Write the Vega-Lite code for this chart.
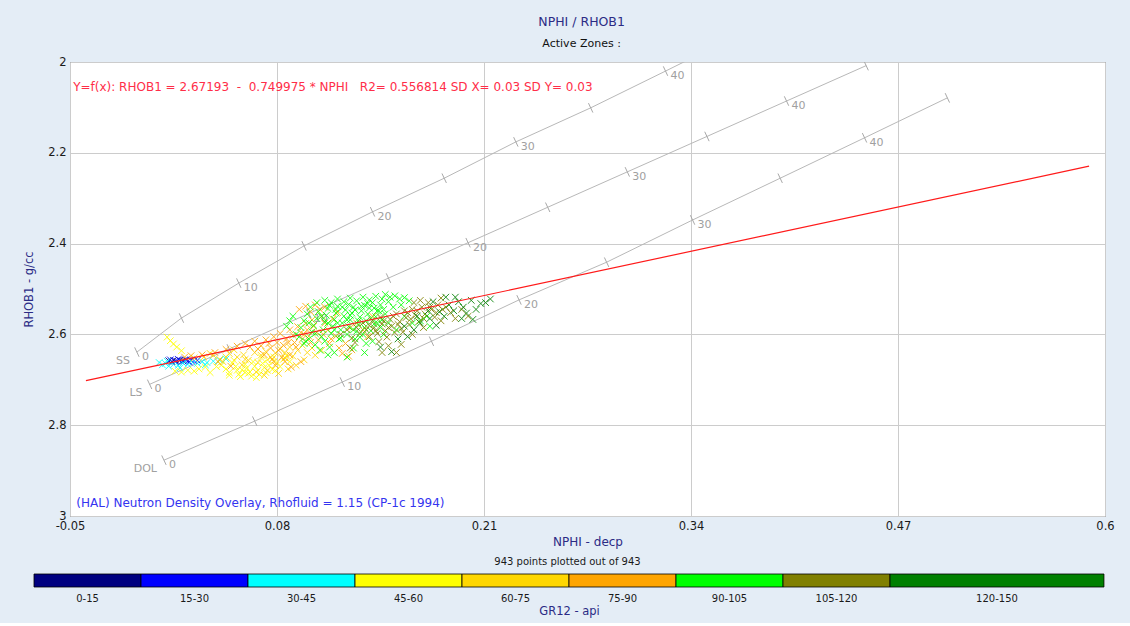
{
  "$schema": "https://vega.github.io/schema/vega-lite/v6.json",
  "background": "#E4EDF6",
  "padding": {"left": 23, "top": 16, "right": 14, "bottom": 6},
  "config": {
    "font": "DejaVu Sans",
    "view": {"stroke": "#4A4A4A", "strokeWidth": 1, "fill": "#FFFFFF"},
    "axis": {"labelFont": "DejaVu Sans", "titleFont": "DejaVu Sans", "titleFontWeight": "normal", "labelColor": "#1A1A1A", "titleColor": "#2B2B85", "gridColor": "#CCCCCC", "gridOpacity": 1, "domain": false, "ticks": false, "labelFlush": false, "labelOverlap": false},
    "title": {"font": "DejaVu Sans", "fontWeight": "normal"}
  },
  "title": {"text": "NPHI / RHOB1", "subtitle": "Active Zones :", "anchor": "middle", "color": "#2B2B85", "fontSize": 12.5, "subtitleColor": "#111111", "subtitleFontSize": 11, "subtitleFont": "DejaVu Sans", "subtitlePadding": 9, "offset": 7},
  "spacing": 8,
  "datasets": {
    "overlay": [
      {"lith": "SS", "phi": 0, "NPHI": -0.008, "RHOB1": 2.639},
      {"lith": "SS", "phi": 5, "NPHI": 0.020, "RHOB1": 2.564},
      {"lith": "SS", "phi": 10, "NPHI": 0.056, "RHOB1": 2.487},
      {"lith": "SS", "phi": 15, "NPHI": 0.097, "RHOB1": 2.405},
      {"lith": "SS", "phi": 20, "NPHI": 0.140, "RHOB1": 2.330},
      {"lith": "SS", "phi": 25, "NPHI": 0.185, "RHOB1": 2.256},
      {"lith": "SS", "phi": 30, "NPHI": 0.230, "RHOB1": 2.176},
      {"lith": "SS", "phi": 35, "NPHI": 0.277, "RHOB1": 2.101},
      {"lith": "SS", "phi": 40, "NPHI": 0.324, "RHOB1": 2.020},
      {"lith": "SS", "phi": 45, "NPHI": 0.370, "RHOB1": 1.940},
      {"lith": "LS", "phi": 0, "NPHI": 0.000, "RHOB1": 2.710},
      {"lith": "LS", "phi": 5, "NPHI": 0.050, "RHOB1": 2.632},
      {"lith": "LS", "phi": 10, "NPHI": 0.100, "RHOB1": 2.554},
      {"lith": "LS", "phi": 15, "NPHI": 0.150, "RHOB1": 2.476},
      {"lith": "LS", "phi": 20, "NPHI": 0.200, "RHOB1": 2.398},
      {"lith": "LS", "phi": 25, "NPHI": 0.250, "RHOB1": 2.320},
      {"lith": "LS", "phi": 30, "NPHI": 0.300, "RHOB1": 2.242},
      {"lith": "LS", "phi": 35, "NPHI": 0.350, "RHOB1": 2.164},
      {"lith": "LS", "phi": 40, "NPHI": 0.400, "RHOB1": 2.086},
      {"lith": "LS", "phi": 45, "NPHI": 0.450, "RHOB1": 2.008},
      {"lith": "DOL", "phi": 0, "NPHI": 0.009, "RHOB1": 2.877},
      {"lith": "DOL", "phi": 5, "NPHI": 0.066, "RHOB1": 2.791},
      {"lith": "DOL", "phi": 10, "NPHI": 0.121, "RHOB1": 2.705},
      {"lith": "DOL", "phi": 15, "NPHI": 0.177, "RHOB1": 2.615},
      {"lith": "DOL", "phi": 20, "NPHI": 0.232, "RHOB1": 2.524},
      {"lith": "DOL", "phi": 25, "NPHI": 0.287, "RHOB1": 2.441},
      {"lith": "DOL", "phi": 30, "NPHI": 0.341, "RHOB1": 2.348},
      {"lith": "DOL", "phi": 35, "NPHI": 0.396, "RHOB1": 2.256},
      {"lith": "DOL", "phi": 40, "NPHI": 0.449, "RHOB1": 2.167},
      {"lith": "DOL", "phi": 45, "NPHI": 0.501, "RHOB1": 2.079}
    ],
    "fit": [
      {"NPHI": -0.04, "RHOB1": 2.70193},
      {"NPHI": 0.59, "RHOB1": 2.22945}
    ],
    "legend": [
      {"range": "0-15", "lo": 0, "hi": 15, "mid": 7.5},
      {"range": "15-30", "lo": 15, "hi": 30, "mid": 22.5},
      {"range": "30-45", "lo": 30, "hi": 45, "mid": 37.5},
      {"range": "45-60", "lo": 45, "hi": 60, "mid": 52.5},
      {"range": "60-75", "lo": 60, "hi": 75, "mid": 67.5},
      {"range": "75-90", "lo": 75, "hi": 90, "mid": 82.5},
      {"range": "90-105", "lo": 90, "hi": 105, "mid": 97.5},
      {"range": "105-120", "lo": 105, "hi": 120, "mid": 112.5},
      {"range": "120-150", "lo": 120, "hi": 150, "mid": 135}
    ],
    "points": [
      {"NPHI": 0.012, "RHOB1": 2.658, "GR12": 9}, {"NPHI": 0.015, "RHOB1": 2.657, "GR12": 11}, {"NPHI": 0.017, "RHOB1": 2.659, "GR12": 8}, {"NPHI": 0.019, "RHOB1": 2.657, "GR12": 12}, {"NPHI": 0.021, "RHOB1": 2.658, "GR12": 10}, {"NPHI": 0.014, "RHOB1": 2.660, "GR12": 13}, {"NPHI": 0.023, "RHOB1": 2.656, "GR12": 14},
      {"NPHI": 0.013, "RHOB1": 2.656, "GR12": 18}, {"NPHI": 0.016, "RHOB1": 2.659, "GR12": 21}, {"NPHI": 0.018, "RHOB1": 2.655, "GR12": 24}, {"NPHI": 0.020, "RHOB1": 2.660, "GR12": 19}, {"NPHI": 0.022, "RHOB1": 2.657, "GR12": 26}, {"NPHI": 0.024, "RHOB1": 2.659, "GR12": 22}, {"NPHI": 0.026, "RHOB1": 2.656, "GR12": 28}, {"NPHI": 0.028, "RHOB1": 2.658, "GR12": 23}, {"NPHI": 0.025, "RHOB1": 2.661, "GR12": 27}, {"NPHI": 0.030, "RHOB1": 2.657, "GR12": 29},
      {"NPHI": 0.006, "RHOB1": 2.662, "GR12": 33}, {"NPHI": 0.008, "RHOB1": 2.667, "GR12": 36}, {"NPHI": 0.010, "RHOB1": 2.664, "GR12": 41}, {"NPHI": 0.012, "RHOB1": 2.670, "GR12": 38}, {"NPHI": 0.015, "RHOB1": 2.666, "GR12": 34}, {"NPHI": 0.018, "RHOB1": 2.668, "GR12": 43}, {"NPHI": 0.021, "RHOB1": 2.663, "GR12": 39}, {"NPHI": 0.024, "RHOB1": 2.666, "GR12": 37}, {"NPHI": 0.027, "RHOB1": 2.662, "GR12": 42}, {"NPHI": 0.030, "RHOB1": 2.664, "GR12": 35}, {"NPHI": 0.033, "RHOB1": 2.660, "GR12": 40}, {"NPHI": 0.036, "RHOB1": 2.662, "GR12": 44}, {"NPHI": 0.040, "RHOB1": 2.659, "GR12": 38}, {"NPHI": 0.044, "RHOB1": 2.657, "GR12": 36}, {"NPHI": 0.048, "RHOB1": 2.654, "GR12": 41}, {"NPHI": 0.019, "RHOB1": 2.674, "GR12": 39}, {"NPHI": 0.011, "RHOB1": 2.659, "GR12": 33}, {"NPHI": 0.035, "RHOB1": 2.667, "GR12": 42},
      {"NPHI": 0.011, "RHOB1": 2.606, "GR12": 52}, {"NPHI": 0.013, "RHOB1": 2.614, "GR12": 55}, {"NPHI": 0.015, "RHOB1": 2.621, "GR12": 49}, {"NPHI": 0.017, "RHOB1": 2.628, "GR12": 57}, {"NPHI": 0.020, "RHOB1": 2.636, "GR12": 53},
      {"NPHI": 0.016, "RHOB1": 2.681, "GR12": 51}, {"NPHI": 0.020, "RHOB1": 2.683, "GR12": 56}, {"NPHI": 0.024, "RHOB1": 2.679, "GR12": 48}, {"NPHI": 0.028, "RHOB1": 2.681, "GR12": 54}, {"NPHI": 0.031, "RHOB1": 2.676, "GR12": 58}, {"NPHI": 0.035, "RHOB1": 2.672, "GR12": 50}, {"NPHI": 0.038, "RHOB1": 2.684, "GR12": 55}, {"NPHI": 0.042, "RHOB1": 2.671, "GR12": 47},
      {"NPHI": 0.045, "RHOB1": 2.668, "GR12": 53}, {"NPHI": 0.048, "RHOB1": 2.676, "GR12": 56}, {"NPHI": 0.050, "RHOB1": 2.684, "GR12": 50}, {"NPHI": 0.052, "RHOB1": 2.663, "GR12": 58}, {"NPHI": 0.054, "RHOB1": 2.671, "GR12": 52}, {"NPHI": 0.056, "RHOB1": 2.688, "GR12": 55}, {"NPHI": 0.058, "RHOB1": 2.678, "GR12": 49}, {"NPHI": 0.060, "RHOB1": 2.666, "GR12": 57}, {"NPHI": 0.061, "RHOB1": 2.674, "GR12": 54}, {"NPHI": 0.063, "RHOB1": 2.683, "GR12": 51}, {"NPHI": 0.065, "RHOB1": 2.660, "GR12": 56}, {"NPHI": 0.066, "RHOB1": 2.670, "GR12": 53}, {"NPHI": 0.068, "RHOB1": 2.679, "GR12": 58}, {"NPHI": 0.069, "RHOB1": 2.688, "GR12": 50}, {"NPHI": 0.071, "RHOB1": 2.664, "GR12": 55}, {"NPHI": 0.072, "RHOB1": 2.673, "GR12": 52}, {"NPHI": 0.074, "RHOB1": 2.656, "GR12": 57}, {"NPHI": 0.075, "RHOB1": 2.668, "GR12": 54}, {"NPHI": 0.077, "RHOB1": 2.677, "GR12": 49}, {"NPHI": 0.078, "RHOB1": 2.650, "GR12": 56}, {"NPHI": 0.080, "RHOB1": 2.662, "GR12": 53}, {"NPHI": 0.082, "RHOB1": 2.671, "GR12": 58}, {"NPHI": 0.084, "RHOB1": 2.655, "GR12": 51}, {"NPHI": 0.086, "RHOB1": 2.646, "GR12": 55}, {"NPHI": 0.057, "RHOB1": 2.693, "GR12": 52}, {"NPHI": 0.064, "RHOB1": 2.692, "GR12": 57}, {"NPHI": 0.070, "RHOB1": 2.651, "GR12": 54}, {"NPHI": 0.053, "RHOB1": 2.657, "GR12": 50}, {"NPHI": 0.088, "RHOB1": 2.660, "GR12": 56}, {"NPHI": 0.062, "RHOB1": 2.686, "GR12": 53},
      {"NPHI": 0.050, "RHOB1": 2.690, "GR12": 51}, {"NPHI": 0.055, "RHOB1": 2.679, "GR12": 57}, {"NPHI": 0.060, "RHOB1": 2.684, "GR12": 48}, {"NPHI": 0.067, "RHOB1": 2.695, "GR12": 55}, {"NPHI": 0.073, "RHOB1": 2.684, "GR12": 52}, {"NPHI": 0.079, "RHOB1": 2.680, "GR12": 58},
      {"NPHI": 0.028, "RHOB1": 2.652, "GR12": 66}, {"NPHI": 0.034, "RHOB1": 2.650, "GR12": 70}, {"NPHI": 0.040, "RHOB1": 2.646, "GR12": 63}, {"NPHI": 0.046, "RHOB1": 2.660, "GR12": 72}, {"NPHI": 0.050, "RHOB1": 2.642, "GR12": 68}, {"NPHI": 0.055, "RHOB1": 2.650, "GR12": 65}, {"NPHI": 0.059, "RHOB1": 2.645, "GR12": 71}, {"NPHI": 0.062, "RHOB1": 2.657, "GR12": 67}, {"NPHI": 0.066, "RHOB1": 2.640, "GR12": 62}, {"NPHI": 0.070, "RHOB1": 2.646, "GR12": 73}, {"NPHI": 0.073, "RHOB1": 2.638, "GR12": 69}, {"NPHI": 0.076, "RHOB1": 2.650, "GR12": 64}, {"NPHI": 0.079, "RHOB1": 2.641, "GR12": 70}, {"NPHI": 0.082, "RHOB1": 2.632, "GR12": 66}, {"NPHI": 0.085, "RHOB1": 2.640, "GR12": 72}, {"NPHI": 0.088, "RHOB1": 2.628, "GR12": 68}, {"NPHI": 0.090, "RHOB1": 2.648, "GR12": 63}, {"NPHI": 0.093, "RHOB1": 2.635, "GR12": 71}, {"NPHI": 0.096, "RHOB1": 2.624, "GR12": 67}, {"NPHI": 0.099, "RHOB1": 2.640, "GR12": 74}, {"NPHI": 0.102, "RHOB1": 2.630, "GR12": 65}, {"NPHI": 0.058, "RHOB1": 2.667, "GR12": 69}, {"NPHI": 0.067, "RHOB1": 2.683, "GR12": 62}, {"NPHI": 0.074, "RHOB1": 2.679, "GR12": 70}, {"NPHI": 0.081, "RHOB1": 2.686, "GR12": 66}, {"NPHI": 0.087, "RHOB1": 2.676, "GR12": 73}, {"NPHI": 0.092, "RHOB1": 2.668, "GR12": 68}, {"NPHI": 0.097, "RHOB1": 2.656, "GR12": 64}, {"NPHI": 0.104, "RHOB1": 2.646, "GR12": 71}, {"NPHI": 0.108, "RHOB1": 2.635, "GR12": 67}, {"NPHI": 0.044, "RHOB1": 2.655, "GR12": 72}, {"NPHI": 0.038, "RHOB1": 2.642, "GR12": 65}, {"NPHI": 0.053, "RHOB1": 2.634, "GR12": 69},
      {"NPHI": 0.060, "RHOB1": 2.655, "GR12": 64}, {"NPHI": 0.068, "RHOB1": 2.662, "GR12": 70}, {"NPHI": 0.078, "RHOB1": 2.660, "GR12": 67}, {"NPHI": 0.085, "RHOB1": 2.652, "GR12": 73}, {"NPHI": 0.072, "RHOB1": 2.690, "GR12": 62}, {"NPHI": 0.048, "RHOB1": 2.650, "GR12": 68},
      {"NPHI": 0.022, "RHOB1": 2.650, "GR12": 80}, {"NPHI": 0.026, "RHOB1": 2.647, "GR12": 84}, {"NPHI": 0.033, "RHOB1": 2.645, "GR12": 78}, {"NPHI": 0.041, "RHOB1": 2.640, "GR12": 86}, {"NPHI": 0.048, "RHOB1": 2.633, "GR12": 82}, {"NPHI": 0.055, "RHOB1": 2.626, "GR12": 88}, {"NPHI": 0.060, "RHOB1": 2.620, "GR12": 79}, {"NPHI": 0.066, "RHOB1": 2.615, "GR12": 85}, {"NPHI": 0.043, "RHOB1": 2.660, "GR12": 81}, {"NPHI": 0.051, "RHOB1": 2.670, "GR12": 87},
      {"NPHI": 0.070, "RHOB1": 2.625, "GR12": 83}, {"NPHI": 0.073, "RHOB1": 2.612, "GR12": 77}, {"NPHI": 0.076, "RHOB1": 2.630, "GR12": 86}, {"NPHI": 0.078, "RHOB1": 2.605, "GR12": 80}, {"NPHI": 0.080, "RHOB1": 2.618, "GR12": 84}, {"NPHI": 0.082, "RHOB1": 2.598, "GR12": 89}, {"NPHI": 0.084, "RHOB1": 2.624, "GR12": 78}, {"NPHI": 0.086, "RHOB1": 2.610, "GR12": 82}, {"NPHI": 0.088, "RHOB1": 2.590, "GR12": 87}, {"NPHI": 0.090, "RHOB1": 2.602, "GR12": 79}, {"NPHI": 0.091, "RHOB1": 2.618, "GR12": 85}, {"NPHI": 0.093, "RHOB1": 2.583, "GR12": 81}, {"NPHI": 0.095, "RHOB1": 2.596, "GR12": 88}, {"NPHI": 0.096, "RHOB1": 2.610, "GR12": 76}, {"NPHI": 0.098, "RHOB1": 2.576, "GR12": 83}, {"NPHI": 0.099, "RHOB1": 2.590, "GR12": 86}, {"NPHI": 0.100, "RHOB1": 2.604, "GR12": 80}, {"NPHI": 0.102, "RHOB1": 2.568, "GR12": 84}, {"NPHI": 0.103, "RHOB1": 2.582, "GR12": 78}, {"NPHI": 0.105, "RHOB1": 2.596, "GR12": 87}, {"NPHI": 0.106, "RHOB1": 2.612, "GR12": 82}, {"NPHI": 0.108, "RHOB1": 2.560, "GR12": 85}, {"NPHI": 0.110, "RHOB1": 2.575, "GR12": 79}, {"NPHI": 0.112, "RHOB1": 2.590, "GR12": 88}, {"NPHI": 0.113, "RHOB1": 2.620, "GR12": 83}, {"NPHI": 0.115, "RHOB1": 2.566, "GR12": 77}, {"NPHI": 0.117, "RHOB1": 2.604, "GR12": 86}, {"NPHI": 0.119, "RHOB1": 2.630, "GR12": 81}, {"NPHI": 0.121, "RHOB1": 2.642, "GR12": 84}, {"NPHI": 0.123, "RHOB1": 2.620, "GR12": 89}, {"NPHI": 0.125, "RHOB1": 2.648, "GR12": 80}, {"NPHI": 0.127, "RHOB1": 2.634, "GR12": 85}, {"NPHI": 0.094, "RHOB1": 2.545, "GR12": 82}, {"NPHI": 0.098, "RHOB1": 2.538, "GR12": 78}, {"NPHI": 0.101, "RHOB1": 2.550, "GR12": 87}, {"NPHI": 0.104, "RHOB1": 2.535, "GR12": 83}, {"NPHI": 0.107, "RHOB1": 2.545, "GR12": 80}, {"NPHI": 0.110, "RHOB1": 2.540, "GR12": 86}, {"NPHI": 0.085, "RHOB1": 2.660, "GR12": 79}, {"NPHI": 0.089, "RHOB1": 2.672, "GR12": 84}, {"NPHI": 0.079, "RHOB1": 2.668, "GR12": 88}, {"NPHI": 0.095, "RHOB1": 2.660, "GR12": 81}, {"NPHI": 0.130, "RHOB1": 2.575, "GR12": 85}, {"NPHI": 0.134, "RHOB1": 2.590, "GR12": 78}, {"NPHI": 0.140, "RHOB1": 2.560, "GR12": 83}, {"NPHI": 0.137, "RHOB1": 2.605, "GR12": 87}, {"NPHI": 0.118, "RHOB1": 2.552, "GR12": 80}, {"NPHI": 0.126, "RHOB1": 2.585, "GR12": 84}, {"NPHI": 0.072, "RHOB1": 2.645, "GR12": 86}, {"NPHI": 0.077, "RHOB1": 2.655, "GR12": 79},
      {"NPHI": 0.075, "RHOB1": 2.620, "GR12": 82}, {"NPHI": 0.081, "RHOB1": 2.635, "GR12": 86}, {"NPHI": 0.087, "RHOB1": 2.618, "GR12": 79}, {"NPHI": 0.092, "RHOB1": 2.628, "GR12": 84}, {"NPHI": 0.097, "RHOB1": 2.600, "GR12": 88}, {"NPHI": 0.101, "RHOB1": 2.618, "GR12": 77}, {"NPHI": 0.109, "RHOB1": 2.600, "GR12": 83}, {"NPHI": 0.114, "RHOB1": 2.610, "GR12": 85}, {"NPHI": 0.088, "RHOB1": 2.645, "GR12": 80}, {"NPHI": 0.083, "RHOB1": 2.650, "GR12": 87}, {"NPHI": 0.068, "RHOB1": 2.632, "GR12": 81}, {"NPHI": 0.063, "RHOB1": 2.628, "GR12": 84},
      {"NPHI": 0.092, "RHOB1": 2.600, "GR12": 97}, {"NPHI": 0.095, "RHOB1": 2.585, "GR12": 93}, {"NPHI": 0.097, "RHOB1": 2.570, "GR12": 101}, {"NPHI": 0.099, "RHOB1": 2.555, "GR12": 96}, {"NPHI": 0.100, "RHOB1": 2.610, "GR12": 99}, {"NPHI": 0.102, "RHOB1": 2.595, "GR12": 94}, {"NPHI": 0.103, "RHOB1": 2.580, "GR12": 102}, {"NPHI": 0.105, "RHOB1": 2.565, "GR12": 98}, {"NPHI": 0.106, "RHOB1": 2.550, "GR12": 92}, {"NPHI": 0.108, "RHOB1": 2.605, "GR12": 100}, {"NPHI": 0.109, "RHOB1": 2.590, "GR12": 95}, {"NPHI": 0.110, "RHOB1": 2.572, "GR12": 103}, {"NPHI": 0.111, "RHOB1": 2.558, "GR12": 97}, {"NPHI": 0.112, "RHOB1": 2.543, "GR12": 93}, {"NPHI": 0.114, "RHOB1": 2.598, "GR12": 101}, {"NPHI": 0.115, "RHOB1": 2.582, "GR12": 96}, {"NPHI": 0.116, "RHOB1": 2.567, "GR12": 99}, {"NPHI": 0.117, "RHOB1": 2.553, "GR12": 94}, {"NPHI": 0.118, "RHOB1": 2.538, "GR12": 102}, {"NPHI": 0.119, "RHOB1": 2.610, "GR12": 98}, {"NPHI": 0.120, "RHOB1": 2.590, "GR12": 92}, {"NPHI": 0.121, "RHOB1": 2.575, "GR12": 100}, {"NPHI": 0.122, "RHOB1": 2.560, "GR12": 95}, {"NPHI": 0.123, "RHOB1": 2.546, "GR12": 103}, {"NPHI": 0.124, "RHOB1": 2.600, "GR12": 97}, {"NPHI": 0.125, "RHOB1": 2.583, "GR12": 93}, {"NPHI": 0.126, "RHOB1": 2.568, "GR12": 101}, {"NPHI": 0.127, "RHOB1": 2.553, "GR12": 96}, {"NPHI": 0.128, "RHOB1": 2.540, "GR12": 99}, {"NPHI": 0.129, "RHOB1": 2.610, "GR12": 94}, {"NPHI": 0.130, "RHOB1": 2.593, "GR12": 102}, {"NPHI": 0.131, "RHOB1": 2.578, "GR12": 98}, {"NPHI": 0.132, "RHOB1": 2.562, "GR12": 92}, {"NPHI": 0.133, "RHOB1": 2.548, "GR12": 100}, {"NPHI": 0.134, "RHOB1": 2.600, "GR12": 95}, {"NPHI": 0.135, "RHOB1": 2.585, "GR12": 103}, {"NPHI": 0.136, "RHOB1": 2.570, "GR12": 97}, {"NPHI": 0.137, "RHOB1": 2.555, "GR12": 93}, {"NPHI": 0.138, "RHOB1": 2.542, "GR12": 101}, {"NPHI": 0.139, "RHOB1": 2.592, "GR12": 96}, {"NPHI": 0.141, "RHOB1": 2.577, "GR12": 99}, {"NPHI": 0.142, "RHOB1": 2.561, "GR12": 94}, {"NPHI": 0.143, "RHOB1": 2.548, "GR12": 102}, {"NPHI": 0.145, "RHOB1": 2.585, "GR12": 98}, {"NPHI": 0.146, "RHOB1": 2.568, "GR12": 92}, {"NPHI": 0.148, "RHOB1": 2.555, "GR12": 100}, {"NPHI": 0.150, "RHOB1": 2.575, "GR12": 95}, {"NPHI": 0.097, "RHOB1": 2.620, "GR12": 103}, {"NPHI": 0.104, "RHOB1": 2.623, "GR12": 97}, {"NPHI": 0.113, "RHOB1": 2.628, "GR12": 93}, {"NPHI": 0.107, "RHOB1": 2.635, "GR12": 101}, {"NPHI": 0.116, "RHOB1": 2.640, "GR12": 96}, {"NPHI": 0.128, "RHOB1": 2.630, "GR12": 99}, {"NPHI": 0.140, "RHOB1": 2.615, "GR12": 94}, {"NPHI": 0.086, "RHOB1": 2.582, "GR12": 102}, {"NPHI": 0.088, "RHOB1": 2.570, "GR12": 98}, {"NPHI": 0.090, "RHOB1": 2.560, "GR12": 92},
      {"NPHI": 0.148, "RHOB1": 2.512, "GR12": 100}, {"NPHI": 0.151, "RHOB1": 2.518, "GR12": 95}, {"NPHI": 0.154, "RHOB1": 2.515, "GR12": 103}, {"NPHI": 0.157, "RHOB1": 2.522, "GR12": 97}, {"NPHI": 0.160, "RHOB1": 2.519, "GR12": 93}, {"NPHI": 0.163, "RHOB1": 2.526, "GR12": 101}, {"NPHI": 0.150, "RHOB1": 2.528, "GR12": 96}, {"NPHI": 0.145, "RHOB1": 2.535, "GR12": 99}, {"NPHI": 0.140, "RHOB1": 2.530, "GR12": 94}, {"NPHI": 0.135, "RHOB1": 2.536, "GR12": 102}, {"NPHI": 0.153, "RHOB1": 2.540, "GR12": 98}, {"NPHI": 0.158, "RHOB1": 2.535, "GR12": 92},
      {"NPHI": 0.170, "RHOB1": 2.570, "GR12": 100}, {"NPHI": 0.174, "RHOB1": 2.560, "GR12": 95}, {"NPHI": 0.176, "RHOB1": 2.582, "GR12": 103}, {"NPHI": 0.165, "RHOB1": 2.575, "GR12": 97}, {"NPHI": 0.160, "RHOB1": 2.560, "GR12": 93}, {"NPHI": 0.155, "RHOB1": 2.590, "GR12": 101}, {"NPHI": 0.147, "RHOB1": 2.600, "GR12": 96}, {"NPHI": 0.112, "RHOB1": 2.645, "GR12": 99}, {"NPHI": 0.135, "RHOB1": 2.640, "GR12": 94}, {"NPHI": 0.124, "RHOB1": 2.650, "GR12": 102},
      {"NPHI": 0.110, "RHOB1": 2.525, "GR12": 97}, {"NPHI": 0.114, "RHOB1": 2.530, "GR12": 93}, {"NPHI": 0.118, "RHOB1": 2.522, "GR12": 101}, {"NPHI": 0.122, "RHOB1": 2.528, "GR12": 96}, {"NPHI": 0.126, "RHOB1": 2.520, "GR12": 99}, {"NPHI": 0.130, "RHOB1": 2.526, "GR12": 94}, {"NPHI": 0.134, "RHOB1": 2.518, "GR12": 102}, {"NPHI": 0.138, "RHOB1": 2.524, "GR12": 98}, {"NPHI": 0.142, "RHOB1": 2.516, "GR12": 92}, {"NPHI": 0.146, "RHOB1": 2.522, "GR12": 100}, {"NPHI": 0.113, "RHOB1": 2.536, "GR12": 95}, {"NPHI": 0.117, "RHOB1": 2.545, "GR12": 103}, {"NPHI": 0.121, "RHOB1": 2.540, "GR12": 97}, {"NPHI": 0.125, "RHOB1": 2.534, "GR12": 93}, {"NPHI": 0.129, "RHOB1": 2.546, "GR12": 101}, {"NPHI": 0.133, "RHOB1": 2.538, "GR12": 96}, {"NPHI": 0.137, "RHOB1": 2.532, "GR12": 99}, {"NPHI": 0.141, "RHOB1": 2.542, "GR12": 94}, {"NPHI": 0.144, "RHOB1": 2.548, "GR12": 102}, {"NPHI": 0.101, "RHOB1": 2.540, "GR12": 98}, {"NPHI": 0.105, "RHOB1": 2.530, "GR12": 92}, {"NPHI": 0.108, "RHOB1": 2.560, "GR12": 100}, {"NPHI": 0.112, "RHOB1": 2.575, "GR12": 95}, {"NPHI": 0.116, "RHOB1": 2.590, "GR12": 103}, {"NPHI": 0.120, "RHOB1": 2.608, "GR12": 97}, {"NPHI": 0.124, "RHOB1": 2.568, "GR12": 93}, {"NPHI": 0.128, "RHOB1": 2.590, "GR12": 101}, {"NPHI": 0.132, "RHOB1": 2.606, "GR12": 96}, {"NPHI": 0.136, "RHOB1": 2.620, "GR12": 99}, {"NPHI": 0.100, "RHOB1": 2.575, "GR12": 94}, {"NPHI": 0.104, "RHOB1": 2.598, "GR12": 102}, {"NPHI": 0.098, "RHOB1": 2.615, "GR12": 98}, {"NPHI": 0.094, "RHOB1": 2.605, "GR12": 92}, {"NPHI": 0.110, "RHOB1": 2.615, "GR12": 100}, {"NPHI": 0.118, "RHOB1": 2.575, "GR12": 95}, {"NPHI": 0.126, "RHOB1": 2.558, "GR12": 103}, {"NPHI": 0.131, "RHOB1": 2.570, "GR12": 97}, {"NPHI": 0.139, "RHOB1": 2.565, "GR12": 93}, {"NPHI": 0.143, "RHOB1": 2.575, "GR12": 101}, {"NPHI": 0.147, "RHOB1": 2.545, "GR12": 96},
      {"NPHI": 0.120, "RHOB1": 2.600, "GR12": 112}, {"NPHI": 0.124, "RHOB1": 2.590, "GR12": 108}, {"NPHI": 0.127, "RHOB1": 2.608, "GR12": 116}, {"NPHI": 0.130, "RHOB1": 2.585, "GR12": 111}, {"NPHI": 0.132, "RHOB1": 2.598, "GR12": 114}, {"NPHI": 0.134, "RHOB1": 2.575, "GR12": 107}, {"NPHI": 0.136, "RHOB1": 2.590, "GR12": 118}, {"NPHI": 0.138, "RHOB1": 2.605, "GR12": 113}, {"NPHI": 0.140, "RHOB1": 2.570, "GR12": 109}, {"NPHI": 0.141, "RHOB1": 2.585, "GR12": 115}, {"NPHI": 0.143, "RHOB1": 2.598, "GR12": 110}, {"NPHI": 0.145, "RHOB1": 2.562, "GR12": 117}, {"NPHI": 0.146, "RHOB1": 2.577, "GR12": 112}, {"NPHI": 0.148, "RHOB1": 2.592, "GR12": 106}, {"NPHI": 0.149, "RHOB1": 2.606, "GR12": 114}, {"NPHI": 0.151, "RHOB1": 2.567, "GR12": 111}, {"NPHI": 0.152, "RHOB1": 2.582, "GR12": 119}, {"NPHI": 0.154, "RHOB1": 2.596, "GR12": 108}, {"NPHI": 0.155, "RHOB1": 2.555, "GR12": 113}, {"NPHI": 0.157, "RHOB1": 2.572, "GR12": 116}, {"NPHI": 0.158, "RHOB1": 2.587, "GR12": 110}, {"NPHI": 0.160, "RHOB1": 2.548, "GR12": 115}, {"NPHI": 0.161, "RHOB1": 2.563, "GR12": 107}, {"NPHI": 0.163, "RHOB1": 2.578, "GR12": 112}, {"NPHI": 0.165, "RHOB1": 2.545, "GR12": 118}, {"NPHI": 0.167, "RHOB1": 2.558, "GR12": 111}, {"NPHI": 0.169, "RHOB1": 2.572, "GR12": 114}, {"NPHI": 0.171, "RHOB1": 2.540, "GR12": 109}, {"NPHI": 0.173, "RHOB1": 2.555, "GR12": 116}, {"NPHI": 0.175, "RHOB1": 2.530, "GR12": 113}, {"NPHI": 0.177, "RHOB1": 2.545, "GR12": 108}, {"NPHI": 0.179, "RHOB1": 2.562, "GR12": 117}, {"NPHI": 0.181, "RHOB1": 2.535, "GR12": 112}, {"NPHI": 0.183, "RHOB1": 2.520, "GR12": 110}, {"NPHI": 0.186, "RHOB1": 2.540, "GR12": 115}, {"NPHI": 0.189, "RHOB1": 2.552, "GR12": 119}, {"NPHI": 0.192, "RHOB1": 2.565, "GR12": 111}, {"NPHI": 0.183, "RHOB1": 2.570, "GR12": 106}, {"NPHI": 0.150, "RHOB1": 2.625, "GR12": 114}, {"NPHI": 0.158, "RHOB1": 2.622, "GR12": 109}, {"NPHI": 0.144, "RHOB1": 2.616, "GR12": 116}, {"NPHI": 0.129, "RHOB1": 2.618, "GR12": 113}, {"NPHI": 0.146, "RHOB1": 2.640, "GR12": 110}, {"NPHI": 0.155, "RHOB1": 2.640, "GR12": 117}, {"NPHI": 0.126, "RHOB1": 2.630, "GR12": 112}, {"NPHI": 0.172, "RHOB1": 2.585, "GR12": 108}, {"NPHI": 0.196, "RHOB1": 2.545, "GR12": 115}, {"NPHI": 0.165, "RHOB1": 2.600, "GR12": 111}, {"NPHI": 0.200, "RHOB1": 2.560, "GR12": 118},
      {"NPHI": 0.138, "RHOB1": 2.580, "GR12": 110}, {"NPHI": 0.142, "RHOB1": 2.592, "GR12": 114}, {"NPHI": 0.147, "RHOB1": 2.570, "GR12": 108}, {"NPHI": 0.150, "RHOB1": 2.585, "GR12": 116}, {"NPHI": 0.153, "RHOB1": 2.560, "GR12": 112}, {"NPHI": 0.156, "RHOB1": 2.578, "GR12": 107}, {"NPHI": 0.159, "RHOB1": 2.595, "GR12": 118}, {"NPHI": 0.162, "RHOB1": 2.552, "GR12": 113}, {"NPHI": 0.164, "RHOB1": 2.566, "GR12": 109}, {"NPHI": 0.168, "RHOB1": 2.548, "GR12": 115}, {"NPHI": 0.172, "RHOB1": 2.565, "GR12": 111}, {"NPHI": 0.176, "RHOB1": 2.540, "GR12": 117}, {"NPHI": 0.180, "RHOB1": 2.552, "GR12": 106}, {"NPHI": 0.184, "RHOB1": 2.545, "GR12": 114}, {"NPHI": 0.166, "RHOB1": 2.530, "GR12": 110}, {"NPHI": 0.170, "RHOB1": 2.525, "GR12": 112},
      {"NPHI": 0.160, "RHOB1": 2.582, "GR12": 128}, {"NPHI": 0.166, "RHOB1": 2.590, "GR12": 135}, {"NPHI": 0.170, "RHOB1": 2.575, "GR12": 124}, {"NPHI": 0.176, "RHOB1": 2.565, "GR12": 140}, {"NPHI": 0.180, "RHOB1": 2.580, "GR12": 131}, {"NPHI": 0.185, "RHOB1": 2.560, "GR12": 126}, {"NPHI": 0.188, "RHOB1": 2.535, "GR12": 138}, {"NPHI": 0.191, "RHOB1": 2.548, "GR12": 133}, {"NPHI": 0.194, "RHOB1": 2.528, "GR12": 122}, {"NPHI": 0.197, "RHOB1": 2.540, "GR12": 145}, {"NPHI": 0.199, "RHOB1": 2.553, "GR12": 129}, {"NPHI": 0.202, "RHOB1": 2.525, "GR12": 136}, {"NPHI": 0.205, "RHOB1": 2.545, "GR12": 127}, {"NPHI": 0.208, "RHOB1": 2.532, "GR12": 142}, {"NPHI": 0.211, "RHOB1": 2.530, "GR12": 132}, {"NPHI": 0.214, "RHOB1": 2.522, "GR12": 125}, {"NPHI": 0.196, "RHOB1": 2.565, "GR12": 139}, {"NPHI": 0.203, "RHOB1": 2.567, "GR12": 130}, {"NPHI": 0.156, "RHOB1": 2.610, "GR12": 134}, {"NPHI": 0.162, "RHOB1": 2.605, "GR12": 123}, {"NPHI": 0.152, "RHOB1": 2.638, "GR12": 141}, {"NPHI": 0.186, "RHOB1": 2.518, "GR12": 128}, {"NPHI": 0.192, "RHOB1": 2.518, "GR12": 137}, {"NPHI": 0.178, "RHOB1": 2.528, "GR12": 126}, {"NPHI": 0.175, "RHOB1": 2.548, "GR12": 133}, {"NPHI": 0.182, "RHOB1": 2.550, "GR12": 129}, {"NPHI": 0.168, "RHOB1": 2.560, "GR12": 144}, {"NPHI": 0.145, "RHOB1": 2.628, "GR12": 131}
    ]
  },
  "vconcat": [
    {
      "width": 1035,
      "height": 454,
      "layer": [
        {"data": {"name": "overlay"}, "mark": {"type": "line", "color": "#B8B8B8", "strokeWidth": 1, "clip": true},
         "encoding": {
           "x": {"field": "NPHI", "type": "quantitative", "scale": {"domain": [-0.05, 0.6], "nice": false, "zero": false}, "axis": {"title": "NPHI - decp", "values": [-0.05, 0.08, 0.21, 0.34, 0.47, 0.6], "labelExpr": "'' + datum.value", "labelFontSize": 11.5, "labelPadding": 4, "titleFontSize": 12, "titlePadding": 5}},
           "y": {"field": "RHOB1", "type": "quantitative", "scale": {"domain": [2, 3], "nice": false, "zero": false, "reverse": true}, "axis": {"title": "RHOB1 - g/cc", "values": [2, 2.2, 2.4, 2.6, 2.8, 3], "labelExpr": "'' + datum.value", "labelFontSize": 11.5, "labelPadding": 4, "titleFontSize": 11.5, "titlePadding": 13}},
           "detail": {"field": "lith"}, "order": {"field": "phi", "type": "quantitative"}}},
        {"data": {"name": "overlay"}, "mark": {"type": "point", "shape": "M-0.42,-0.9L0.42,0.9", "filled": false, "color": "#A8A8A8", "strokeWidth": 1, "size": 110, "opacity": 1, "clip": true},
         "encoding": {"x": {"field": "NPHI", "type": "quantitative"}, "y": {"field": "RHOB1", "type": "quantitative"}}},
        {"data": {"name": "overlay"}, "transform": [{"filter": {"field": "phi", "oneOf": [0, 10, 20, 30, 40]}}], "mark": {"type": "text", "align": "left", "baseline": "middle", "dx": 5, "dy": 5, "color": "#A0A0A0", "fontSize": 11, "clip": true},
         "encoding": {"x": {"field": "NPHI", "type": "quantitative"}, "y": {"field": "RHOB1", "type": "quantitative"}, "text": {"field": "phi", "type": "quantitative"}}},
        {"data": {"name": "overlay"}, "transform": [{"filter": {"field": "phi", "equal": 0}}], "mark": {"type": "text", "align": "right", "baseline": "middle", "dx": -7, "dy": 9, "color": "#A0A0A0", "fontSize": 11},
         "encoding": {"x": {"field": "NPHI", "type": "quantitative"}, "y": {"field": "RHOB1", "type": "quantitative"}, "text": {"field": "lith", "type": "nominal"}}},
        {"data": {"name": "points"}, "mark": {"type": "point", "shape": "M-1,-1L1,1M-1,1L1,-1", "filled": false, "size": 44, "strokeWidth": 1, "opacity": 0.85},
         "encoding": {"x": {"field": "NPHI", "type": "quantitative"}, "y": {"field": "RHOB1", "type": "quantitative"}, "color": {"field": "GR12", "type": "quantitative", "scale": {"type": "threshold", "domain": [15, 30, 45, 60, 75, 90, 105, 120], "range": ["#000080", "#0000FF", "#00FFFF", "#FFFF00", "#FFD700", "#FFA500", "#00FF00", "#808000", "#008000"]}, "legend": null}}},
        {"data": {"name": "fit"}, "mark": {"type": "line", "color": "#FF1A1A", "strokeWidth": 1.2},
         "encoding": {"x": {"field": "NPHI", "type": "quantitative"}, "y": {"field": "RHOB1", "type": "quantitative"}}},
        {"data": {"values": [{"note": "Y=f(x): RHOB1 = 2.67193\u00a0 -\u00a0 0.749975 * NPHI\u00a0\u00a0 R2= 0.556814 SD X= 0.03 SD Y= 0.03"}]}, "mark": {"type": "text", "align": "left", "baseline": "middle", "color": "#FF2D48", "fontSize": 12},
         "encoding": {"x": {"datum": -0.048, "type": "quantitative"}, "y": {"datum": 2.055, "type": "quantitative"}, "text": {"field": "note", "type": "nominal"}}},
        {"data": {"values": [{"note": "(HAL) Neutron Density Overlay, Rhofluid = 1.15 (CP-1c 1994)"}]}, "mark": {"type": "text", "align": "left", "baseline": "middle", "color": "#3434F0", "fontSize": 12},
         "encoding": {"x": {"datum": -0.046, "type": "quantitative"}, "y": {"datum": 2.971, "type": "quantitative"}, "text": {"field": "note", "type": "nominal"}}}
      ]
    },
    {
      "width": 1035,
      "height": 13,
      "view": {"stroke": null},
      "title": {"text": "943 points plotted out of 943", "fontSize": 10, "color": "#1A1A1A", "offset": 7, "anchor": "middle", "dx": -20},
      "data": {"name": "legend"},
      "layer": [
        {"mark": {"type": "rect", "stroke": "#000000", "strokeWidth": 0.8},
         "encoding": {
           "x": {"field": "lo", "type": "quantitative", "scale": {"domain": [0, 150], "range": [-36, 1034], "nice": false, "zero": false}, "axis": {"title": "GR12 - api", "labels": false, "grid": false, "titlePadding": 18, "titleFontSize": 11.5}},
           "x2": {"field": "hi"},
           "color": {"field": "lo", "type": "quantitative", "scale": {"type": "threshold", "domain": [15, 30, 45, 60, 75, 90, 105, 120], "range": ["#000080", "#0000FF", "#00FFFF", "#FFFF00", "#FFD700", "#FFA500", "#00FF00", "#808000", "#008000"]}, "legend": null}
         }},
        {"mark": {"type": "text", "baseline": "top", "align": "center", "dy": 13, "fontSize": 10, "color": "#1A1A1A"},
         "encoding": {"x": {"field": "mid", "type": "quantitative"}, "text": {"field": "range", "type": "nominal"}}}
      ]
    }
  ]
}
